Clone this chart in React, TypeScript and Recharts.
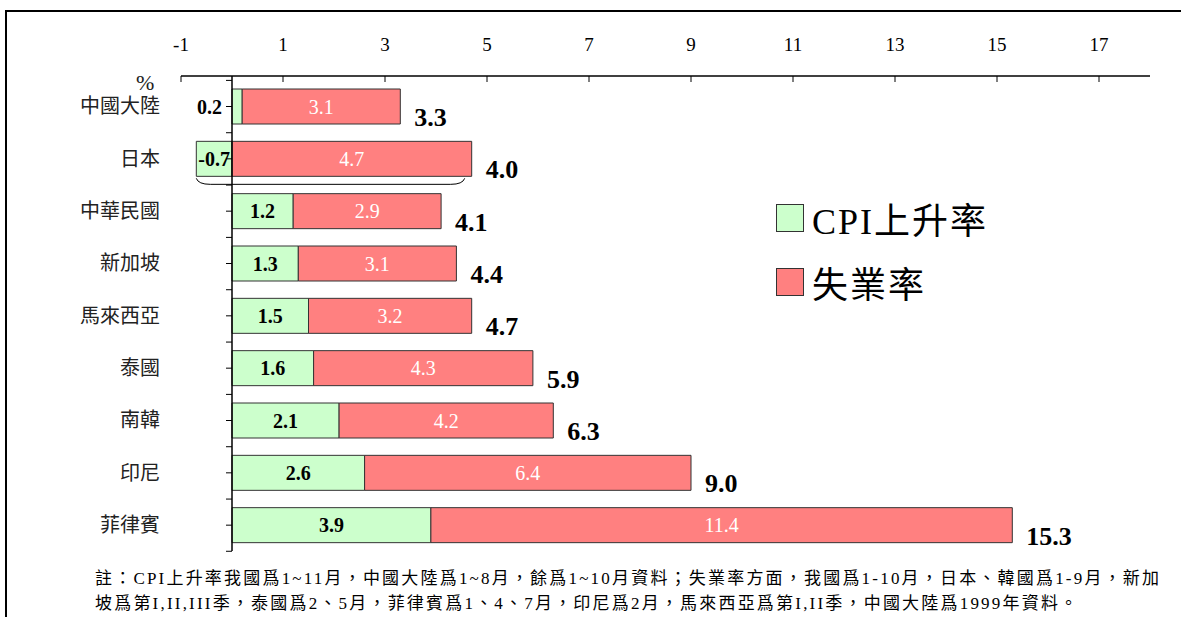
import { Bar, BarChart, LabelList, ReferenceLine, XAxis, YAxis } from 'recharts'

const countries = ['中國大陸', '日本', '中華民國', '新加坡', '馬來西亞', '泰國', '南韓', '印尼', '菲律賓']
const cpiRise = [0.2, -0.7, 1.2, 1.3, 1.5, 1.6, 2.1, 2.6, 3.9]
const unemployment = [3.1, 4.7, 2.9, 3.1, 3.2, 4.3, 4.2, 6.4, 11.4]
const combined = [3.3, 4.0, 4.1, 4.4, 4.7, 5.9, 6.3, 9.0, 15.3]
const xTicks = [-1, 1, 3, 5, 7, 9, 11, 13, 15, 17]
const seriesNames = ['CPI上升率', '失業率']
const noteLines = [
  '註：CPI上升率我國爲1~11月，中國大陸爲1~8月，餘爲1~10月資料；失業率方面，我國爲1-10月，日本、韓國爲1-9月，新加',
  '坡爲第I,II,III季，泰國爲2、5月，菲律賓爲1、4、7月，印尼爲2月，馬來西亞爲第I,II季，中國大陸爲1999年資料。',
]

const data = countries.map((name, i) => ({
  name,
  cpi: cpiRise[i],
  unemp: unemployment[i],
  total: combined[i],
}))

const serif = '"Liberation Serif", "Noto Sans CJK TC", serif'
const green = '#ccffcc'
const red = '#ff8080'
const edge = '#333'
const halfGap = 8.6

function box(p: any) {
  const w = Number(p.width)
  const x = Number(p.x)
  return { left: w < 0 ? x + w : x, w: Math.abs(w), y: Number(p.y), h: Number(p.height) }
}

function CpiLabel(p: any) {
  const { left, w, y, h } = box(p)
  const v = Number(p.value)
  const zero = v >= 0 ? left : left + w
  const cy = y + h / 2
  const narrow = w < 20
  return (
    <g>
      {/* category axis ticks */}
      <line x1={zero - 6} x2={zero} y1={cy} y2={cy} stroke="#000" />
      <line x1={zero - 6} x2={zero} y1={y - halfGap} y2={y - halfGap} stroke="#000" />
      {p.index === countries.length - 1 && (
        <line x1={zero - 6} x2={zero} y1={y + h + halfGap} y2={y + h + halfGap} stroke="#000" />
      )}
      <text
        x={narrow ? zero - 10 : left + w / 2}
        y={cy}
        textAnchor={narrow ? 'end' : 'middle'}
        dominantBaseline="central"
        style={{ fontFamily: serif, fontSize: 20, fontWeight: 'bold' }}
        fill="#000"
      >
        {v.toFixed(1)}
      </text>
    </g>
  )
}

function UnempLabel(p: any) {
  const { left, w, y, h } = box(p)
  return (
    <text
      x={left + w / 2}
      y={y + h / 2}
      textAnchor="middle"
      dominantBaseline="central"
      style={{ fontFamily: serif, fontSize: 20 }}
      fill="#fff"
    >
      {Number(p.value).toFixed(1)}
    </text>
  )
}

function TotalLabel(p: any) {
  const { left, w, y, h } = box(p)
  const i = p.index
  const end = left + w
  let brace = null
  if (cpiRise[i] < 0) {
    const s = left + (cpiRise[i] / unemployment[i]) * w
    const e = end - 7
    const b = y + h
    brace = (
      <path
        d={`M ${s} ${b + 2} Q ${s + 2} ${b + 8} ${s + 14} ${b + 8} L ${e - 14} ${b + 8} Q ${e - 2} ${b + 8} ${e} ${b + 2}`}
        fill="none"
        stroke="#000"
      />
    )
  }
  return (
    <g>
      {brace}
      <text
        x={end + 14}
        y={y + h / 2 + 11}
        dominantBaseline="central"
        style={{ fontFamily: serif, fontSize: 26, fontWeight: 'bold' }}
        fill="#000"
      >
        {Number(p.value).toFixed(1)}
      </text>
    </g>
  )
}

function CountryTick(p: any) {
  return (
    <text
      x={p.x}
      y={p.y}
      textAnchor="end"
      dominantBaseline="central"
      style={{ fontFamily: serif, fontSize: 20 }}
      fill="#222"
    >
      {p.payload.value}
    </text>
  )
}

function NumberTick(p: any) {
  return (
    <text x={p.x} y={p.y} textAnchor="middle" style={{ fontFamily: serif, fontSize: 19 }} fill="#000">
      {p.payload.value}
    </text>
  )
}

export default function App() {
  return (
    <div style={{ position: 'absolute', left: 0, top: 0, width: 1181, height: 617, background: '#fff', overflow: 'hidden' }}>
      <div
        style={{
          position: 'absolute',
          left: 5,
          top: 10,
          width: 1220,
          height: 640,
          borderTop: '2px solid #000',
          borderLeft: '2px solid #000',
        }}
      />
      <div style={{ position: 'absolute', left: 0, top: 0 }}>
        <BarChart
          width={1181}
          height={617}
          data={data}
          layout="vertical"
          stackOffset="sign"
          style={{ fontFamily: serif }}
          margin={{ top: 36, right: 31, bottom: 66, left: 31 }}
        >
          <XAxis
            type="number"
            orientation="top"
            domain={[-1, 18]}
            ticks={xTicks}
            allowDataOverflow
            height={40}
            tickSize={-6}
            tickMargin={31}
            axisLine={{ stroke: '#000', strokeWidth: 1.5 }}
            tickLine={{ stroke: '#000' }}
            tick={NumberTick}
          />
          <YAxis
            type="category"
            dataKey="name"
            width={150}
            padding={{ top: 4, bottom: 0 }}
            axisLine={false}
            tickLine={false}
            tickSize={0}
            tickMargin={21}
            tick={CountryTick}
          />
          <ReferenceLine x={0} stroke="#000" strokeWidth={1.5} />
          <Bar dataKey="cpi" name={seriesNames[0]} stackId="a" fill={green} stroke={edge} barSize={35} isAnimationActive={false}>
            <LabelList dataKey="cpi" content={CpiLabel} />
          </Bar>
          <Bar dataKey="unemp" name={seriesNames[1]} stackId="a" fill={red} stroke={edge} barSize={35} isAnimationActive={false}>
            <LabelList dataKey="unemp" content={UnempLabel} />
            <LabelList dataKey="total" content={TotalLabel} />
          </Bar>
        </BarChart>
      </div>
      <div style={{ position: 'absolute', left: 136, top: 70, fontFamily: serif, fontSize: 22, color: '#222' }}>%</div>
      {seriesNames.map((n, i) => (
        <div
          key={n}
          style={{
            position: 'absolute',
            left: 776,
            top: 192 + i * 64,
            display: 'flex',
            alignItems: 'center',
            fontFamily: serif,
            fontSize: 36,
            color: '#000',
            letterSpacing: 2,
            whiteSpace: 'nowrap',
          }}
        >
          <span
            style={{
              display: 'inline-block',
              width: 26,
              height: 26,
              background: i === 0 ? green : red,
              border: `1.5px solid ${edge}`,
              marginRight: 8,
            }}
          />
          {n}
        </div>
      ))}
      {noteLines.map((t, i) => (
        <div
          key={i}
          style={{
            position: 'absolute',
            left: 95,
            top: 564 + i * 25,
            fontFamily: serif,
            fontSize: 17,
            letterSpacing: 2.2,
            color: '#000',
            whiteSpace: 'nowrap',
          }}
        >
          {t}
        </div>
      ))}
    </div>
  )
}
